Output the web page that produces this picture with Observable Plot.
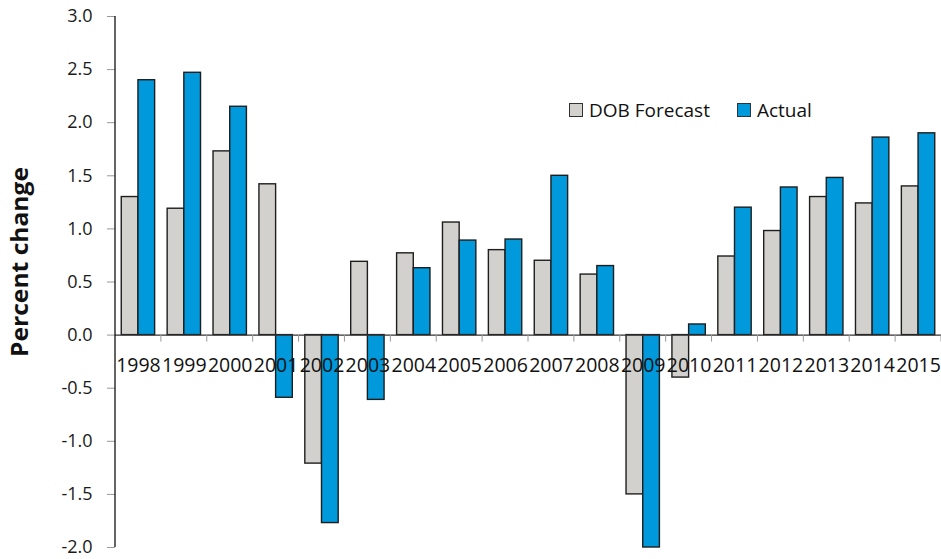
<!DOCTYPE html>
<html>
<head>
<meta charset="utf-8">
<script src="https://cdn.jsdelivr.net/npm/d3@7"></script>
<script src="https://cdn.jsdelivr.net/npm/@observablehq/plot@0.6"></script>
<style>
  body { margin: 0; background: #fff; font-family: "Open Sans", sans-serif; }
  #wrap { position: relative; width: 941px; height: 559px; }
  .legend { position: absolute; left: 569px; top: 97px; display: flex; align-items: center; font-size: 19px; color: #111; }
  .legend .item { display: flex; align-items: center; margin-right: 27px; }
  .legend .sw { display: inline-block; width: 14px; height: 14px; border: 1px solid #333; box-sizing: border-box; margin-right: 6px; }
</style>
</head>
<body>
<div id="wrap"></div>
<script>
// Annual percent change: DOB forecast vs. actual outcome
const years = ["1998","1999","2000","2001","2002","2003","2004","2005","2006",
               "2007","2008","2009","2010","2011","2012","2013","2014","2015"];
const forecast = [1.30, 1.19, 1.73, 1.42, -1.21, 0.69, 0.77, 1.06, 0.80,
                  0.70, 0.57, -1.50, -0.40, 0.74, 0.98, 1.30, 1.24, 1.40];
const actual   = [2.40, 2.47, 2.15, -0.59, -1.77, -0.61, 0.63, 0.89, 0.90,
                  1.50, 0.65, -2.00, 0.10, 1.20, 1.39, 1.48, 1.86, 1.90];
const seriesNames = ["DOB Forecast", "Actual"];
const seriesColors = ["#d3d1cd", "#0099db"];
const yTicks = [-2.0, -1.5, -1.0, -0.5, 0.0, 0.5, 1.0, 1.5, 2.0, 2.5, 3.0];
const yTitle = "Percent change";

const rows = years.flatMap((year, i) => [
  {year, series: seriesNames[0], value: forecast[i]},
  {year, series: seriesNames[1], value: actual[i]}
]);

const chart = Plot.plot({
  width: 941,
  height: 559,
  marginLeft: 115,
  marginRight: 0,
  marginTop: 16,
  marginBottom: 12,
  style: {fontFamily: '"Open Sans", sans-serif', fontSize: "18px", color: "#1a1a1a", background: "#fff"},
  fx: {domain: years, padding: 0, round: false, axis: null},
  x: {domain: seriesNames, paddingInner: 0, paddingOuter: 0.375, round: false, axis: null},
  y: {domain: [-2, 3]},
  color: {domain: seriesNames, range: seriesColors},
  marks: [
    Plot.barY(rows, {fx: "year", x: "series", y: "value", fill: "series", stroke: "#1e1e1e", strokeWidth: 1.4}),
    Plot.ruleY([0], {stroke: "#333", strokeWidth: 1.2}),
    Plot.text(years, {fx: d => d, y: 0, dy: 31, text: d => d, fill: "#111", fontSize: 19.5, ariaLabel: "year-label"}),
    Plot.axisY(yTicks, {tickSize: 8, tickPadding: 15, stroke: "#999", fill: "#1a1a1a", tickFormat: d => d.toFixed(1), label: null, fontSize: 18})
  ]
});

const svg = d3.select(chart);
const fx = chart.scale("fx");
const y = chart.scale("y");
const left = fx.apply(years[0]);
const y0 = y.apply(0);

// vertical axis line
svg.append("line")
  .attr("x1", left).attr("x2", left)
  .attr("y1", y.apply(3)).attr("y2", y.apply(-2))
  .attr("stroke", "#111").attr("stroke-width", 1.3);

// category boundary ticks under the zero line
svg.append("g").selectAll("line").data(years).join("line")
  .attr("x1", d => fx.apply(d) + fx.bandwidth).attr("x2", d => fx.apply(d) + fx.bandwidth)
  .attr("y1", y0).attr("y2", y0 + 7)
  .attr("stroke", "#999").attr("stroke-width", 1);

// taller, narrow year labels
svg.selectAll('g[aria-label="year-label"] text').each(function() {
  const t = d3.select(this);
  const tr = t.attr("transform") || "";
  t.attr("transform", `${tr} scale(1,1.14)`);
});

// y-axis title
svg.append("text")
  .attr("transform", `translate(28,262) rotate(-90)`)
  .attr("text-anchor", "middle")
  .attr("font-size", 23).attr("font-weight", "bold").attr("fill", "#111")
  .attr("textLength", 190).attr("lengthAdjust", "spacingAndGlyphs")
  .text(yTitle);

const wrap = document.getElementById("wrap");
wrap.appendChild(chart);

// legend
const legend = document.createElement("div");
legend.className = "legend";
seriesNames.forEach((name, i) => {
  const item = document.createElement("span");
  item.className = "item";
  const sw = document.createElement("span");
  sw.className = "sw";
  sw.style.background = seriesColors[i];
  item.appendChild(sw);
  item.appendChild(document.createTextNode(name));
  legend.appendChild(item);
});
wrap.appendChild(legend);
</script>
</body>
</html>
